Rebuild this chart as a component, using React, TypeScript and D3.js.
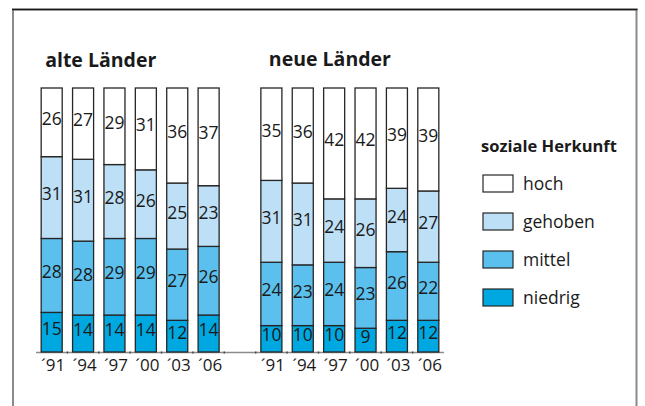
import React, { useEffect, useRef } from 'react';
import * as d3 from 'd3';

// school years, both regions share them
const years = ['91', '94', '97', '00', '03', '06'];
const groups = ['alte Länder', 'neue Länder'];
const groupKeys = ['alt', 'neu'];

// social background, bottom to top of each bar
const levels = ['niedrig', 'mittel', 'gehoben', 'hoch'];
const levelColors = ['#00a8e1', '#5cc0ee', '#bee0f6', '#ffffff'];

// shares in percent
const alteNiedrig = [15, 14, 14, 14, 12, 14];
const alteMittel = [28, 28, 29, 29, 27, 26];
const alteGehoben = [31, 31, 28, 26, 25, 23];
const alteHoch = [26, 27, 29, 31, 36, 37];

const neueNiedrig = [10, 10, 10, 9, 12, 12];
const neueMittel = [24, 23, 24, 23, 26, 22];
const neueGehoben = [31, 31, 24, 26, 24, 27];
const neueHoch = [35, 36, 42, 42, 39, 39];

const legendTitle = 'soziale Herkunft';

const W = 645,
  H = 406;
const font = "'Open Sans', 'DejaVu Sans', sans-serif";

type Row = { key: string; [k: string]: number | string };

function buildRows(): Row[] {
  const sets = [
    [alteNiedrig, alteMittel, alteGehoben, alteHoch],
    [neueNiedrig, neueMittel, neueGehoben, neueHoch]
  ];
  let rows: Row[] = [];
  sets.forEach((set, g) => {
    years.forEach((yr, i) => {
      let row: Row = { key: groupKeys[g] + yr };
      levels.forEach((lv, j) => (row[lv] = set[j][i]));
      rows.push(row);
    });
  });
  return rows;
}

export default function App() {
  const ref = useRef<SVGSVGElement>(null);

  useEffect(() => {
    const svg = d3.select(ref.current);
    svg.selectAll('*').remove();

    const rows = buildRows();
    // one empty slot between the two regions
    const domain = [...years.map(y => 'alt' + y), 'gap', ...years.map(y => 'neu' + y)];

    const x = d3
      .scaleBand()
      .domain(domain)
      .range([36, 444])
      .paddingInner(0.33)
      .paddingOuter(0.165);
    const y = d3
      .scaleLinear()
      .domain([0, 100])
      .range([352, 88])
      .clamp(true);
    const color = d3.scaleOrdinal<string>().domain(levels).range(levelColors);

    const series = d3.stack<Row>().keys(levels)(rows as any);

    // frame
    svg
      .append('path')
      .attr('d', `M13,406 L13,9.5 L636.5,9.5 L636.5,406`)
      .attr('fill', 'none')
      .attr('stroke', '#8a8a8a')
      .attr('stroke-width', 2);
    svg
      .append('line')
      .attr('x1', 12)
      .attr('x2', 637.5)
      .attr('y1', 9.5)
      .attr('y2', 9.5)
      .attr('stroke', '#1a1a1a')
      .attr('stroke-width', 1.5);

    // group titles
    const titleOffset = [4, 8];
    svg
      .append('g')
      .selectAll('text')
      .data(groups)
      .enter()
      .append('text')
      .attr('x', (d, i) => (x(groupKeys[i] + years[0]) as number) + titleOffset[i])
      .attr('y', (d, i) => 67 - i)
      .style('font-family', font)
      .style('font-weight', 'bold')
      .style('font-size', '19.5px')
      .attr('fill', '#1a1a1a')
      .text(d => d);

    // axis line with small ticks between slots
    const step = x.step();
    svg
      .append('line')
      .attr('x1', x.range()[0])
      .attr('x2', x.range()[1])
      .attr('y1', y(0) + 0.5)
      .attr('y2', y(0) + 0.5)
      .attr('stroke', '#8c8c8c')
      .attr('stroke-width', 1.5);
    svg
      .append('g')
      .selectAll('line')
      .data(d3.range(1, domain.length))
      .enter()
      .append('line')
      .attr('x1', d => x.range()[0] + d * step)
      .attr('x2', d => x.range()[0] + d * step)
      .attr('y1', y(0) - 0.5)
      .attr('y2', y(0) + 1.5)
      .attr('stroke', '#444')
      .attr('stroke-width', 1.5);

    // stacked segments
    const layer = svg
      .append('g')
      .selectAll('g')
      .data(series)
      .enter()
      .append('g')
      .attr('fill', d => color(d.key));

    layer
      .selectAll('rect')
      .data(d => d)
      .enter()
      .append('rect')
      .attr('x', d => x(d.data.key as string) as number)
      .attr('width', x.bandwidth())
      .attr('y', d => y(d[1]))
      .attr('height', d => y(d[0]) - y(d[1]))
      .attr('stroke', '#262626')
      .attr('stroke-width', 1.3);

    // values inside segments
    layer
      .selectAll('text')
      .data(d => d.map(p => ({ p, key: d.key })))
      .enter()
      .append('text')
      .attr('x', d => (x(d.p.data.key as string) as number) + x.bandwidth() / 2)
      .attr('y', d => (y(d.p[0]) + y(d.p[1])) / 2 + 2.5)
      .attr('text-anchor', 'middle')
      .style('font-family', font)
      .style('font-size', '17.5px')
      .attr('fill', '#1a1a1a')
      .text(d => (d.p.data[d.key] as number).toString());

    // year labels
    svg
      .append('g')
      .selectAll('text')
      .data(rows)
      .enter()
      .append('text')
      .attr('x', d => (x(d.key) as number) + x.bandwidth() / 2 + 1.5)
      .attr('y', 371)
      .attr('text-anchor', 'middle')
      .style('font-family', font)
      .style('font-size', '17px')
      .attr('fill', '#1a1a1a')
      .text(d => '´' + (d.key as string).slice(3));

    // legend, top entry first
    const legend = svg.append('g').attr('transform', 'translate(481, 0)');
    legend
      .append('text')
      .attr('x', 0)
      .attr('y', 152)
      .style('font-family', font)
      .style('font-weight', 'bold')
      .style('font-size', '16.5px')
      .attr('fill', '#1a1a1a')
      .text(legendTitle);

    const item = legend
      .selectAll('g.item')
      .data(levels.slice().reverse())
      .enter()
      .append('g')
      .attr('class', 'item')
      .attr('transform', (d, i) => `translate(0, ${175 + i * 38})`);
    item
      .append('rect')
      .attr('x', 2)
      .attr('y', 0)
      .attr('width', 30)
      .attr('height', 17)
      .attr('fill', d => color(d))
      .attr('stroke', '#262626')
      .attr('stroke-width', 1.2);
    item
      .append('text')
      .attr('x', 42)
      .attr('y', 15)
      .style('font-family', font)
      .style('font-size', '17.5px')
      .attr('fill', '#1a1a1a')
      .text(d => d);
  }, []);

  return (
    <svg
      ref={ref}
      width={W}
      height={H}
      style={{ position: 'absolute', left: 0, top: 0, background: '#fff' }}
    />
  );
}
